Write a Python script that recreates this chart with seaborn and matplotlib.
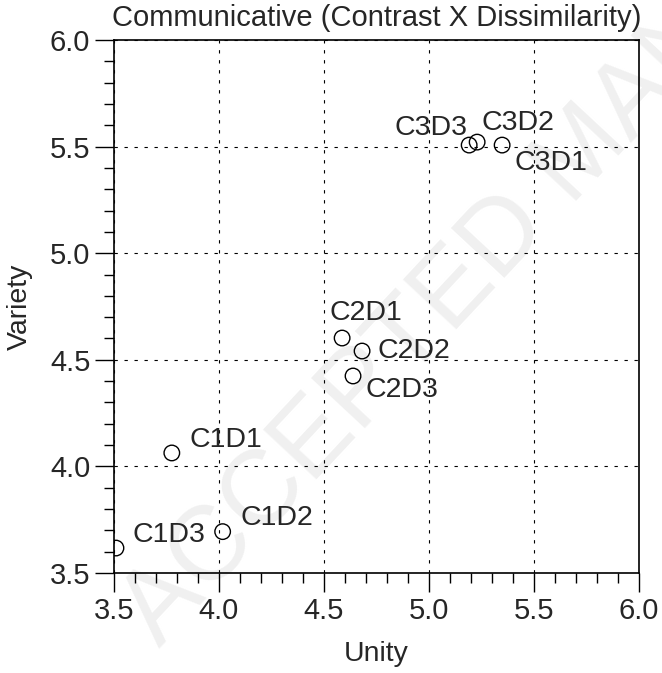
import matplotlib
matplotlib.use('Agg')
import matplotlib.pyplot as plt
import seaborn as sns
import pandas as pd
from matplotlib.ticker import MultipleLocator

# valores
rotulos = ['C1D1', 'C1D2', 'C1D3', 'C2D1', 'C2D2', 'C2D3', 'C3D1', 'C3D2', 'C3D3']
unity = [3.776, 4.018, 3.510, 4.587, 4.682, 4.639, 5.349, 5.230, 5.192]
variety = [4.063, 3.694, 3.617, 4.602, 4.541, 4.424, 5.507, 5.521, 5.507]

# deslocamento dos rotulos (pontos) e alinhamento
offsets = {
    'C1D1': (13, 4.5, 'left'), 'C1D2': (13, 4.5, 'left'), 'C1D3': (12, 4.5, 'left'),
    'C2D1': (-9, 13, 'left'), 'C2D2': (11, -5, 'left'), 'C2D3': (9, -15, 'left'),
    'C3D1': (9, -18, 'left'), 'C3D2': (3, 8.5, 'left'), 'C3D3': (-1, 7, 'right'),
}

df = pd.DataFrame({'Rotulo': rotulos, 'Unity': unity, 'Variety': variety})

sns.set_style('ticks')
plt.rcParams['font.family'] = ['Liberation Sans', 'DejaVu Sans']

fig = plt.figure(figsize=(6.62, 6.73), dpi=100)
ax = fig.add_axes([0.172, 0.1486, 0.793, 0.792])

# marca d'agua (atras dos eixos)
fig.text(0.265, 0.015, 'ACCEPTED MANUSCRIPT', fontsize=76, color='#f0f0f0',
         rotation=47, rotation_mode='anchor', ha='left', va='bottom', zorder=-1)
ax.patch.set_alpha(0)

sns.scatterplot(data=df, x='Unity', y='Variety', ax=ax, s=125, marker='o',
                facecolor='none', edgecolor='black', linewidth=1, zorder=3)

for r, x, y in zip(rotulos, unity, variety):
    dx, dy, ha = offsets[r]
    ax.annotate(r, (x, y), xytext=(dx, dy), textcoords='offset points',
                ha=ha, va='baseline', fontsize=20.5)

ax.set_xlim(3.5, 6.0)
ax.set_ylim(3.5, 6.0)
ax.xaxis.set_major_locator(MultipleLocator(0.5))
ax.yaxis.set_major_locator(MultipleLocator(0.5))
ax.xaxis.set_minor_locator(MultipleLocator(0.1))
ax.yaxis.set_minor_locator(MultipleLocator(0.1))
ax.xaxis.set_major_formatter(plt.FormatStrFormatter('%.1f'))
ax.yaxis.set_major_formatter(plt.FormatStrFormatter('%.1f'))
ax.tick_params(which='major', direction='out', length=13.5, width=1, labelsize=21, color='black', pad=3.5)
ax.tick_params(which='minor', direction='out', length=7, width=1, color='black')

ax.grid(True, which='major', color='black', linestyle=(0, (3, 6)), linewidth=0.8)
for s in ax.spines.values():
    s.set_color('black')
    s.set_linewidth(1.2)

ax.set_title('Communicative (Contrast X Dissimilarity)', fontsize=21, pad=10)
ax.set_xlabel('Unity', fontsize=20.5, labelpad=12)
ax.set_ylabel('Variety', fontsize=20.5, labelpad=12)

fig.savefig('out.png', dpi=100)
